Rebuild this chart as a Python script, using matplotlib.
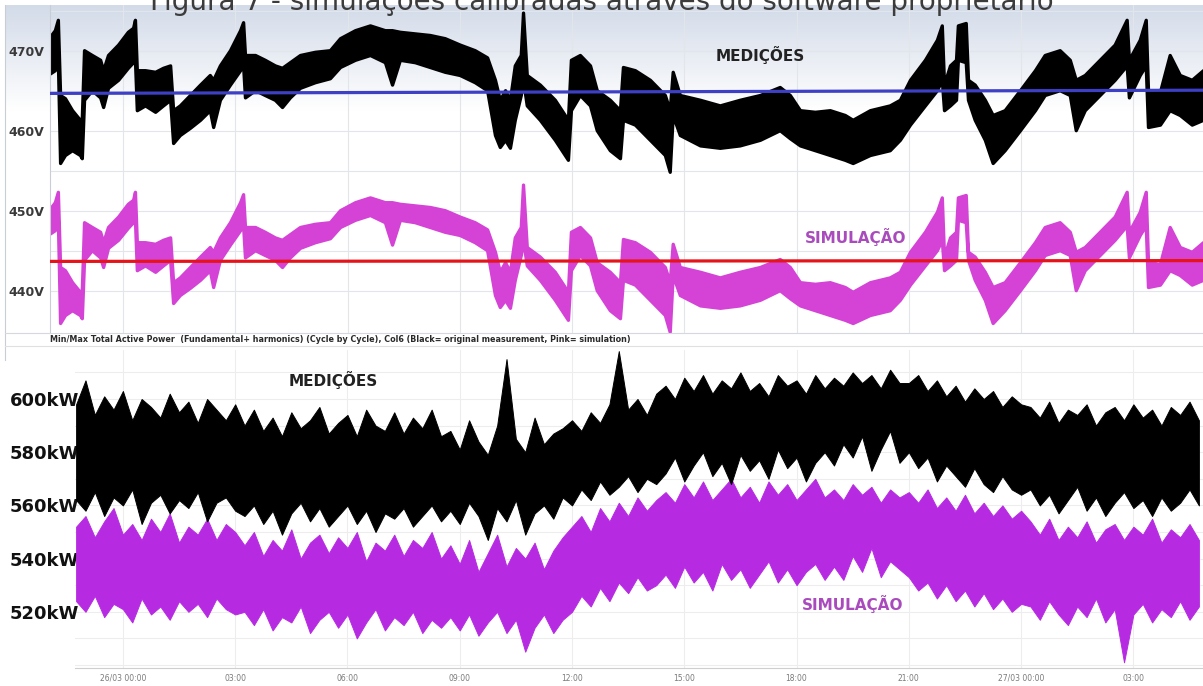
import matplotlib.pyplot as plt
import numpy as np
from matplotlib.colors import LinearSegmentedColormap
from matplotlib.lines import Line2D

W, H = 1203, 686

# time axis: hours from 26/03 00:00
TIME_TICKS = [0, 3, 6, 9, 12, 15, 18, 21, 24, 27]
TIME_LABELS = ["26/03 00:00", "03:00", "06:00", "09:00", "12:00",
               "15:00", "18:00", "21:00", "27/03 00:00", "03:00"]

# --- voltage panel: min/max envelope per time stamp ---
V_TIME = [-1.95, -1.82, -1.74, -1.68, -1.55, -1.36, -1.15, -1.10, -1.04, -0.83,
          -0.61, -0.53, -0.40, -0.13, 0.13, 0.27, 0.32, 0.37, 0.59, 0.86,
          1.07, 1.26, 1.34, 1.52, 1.79, 2.06, 2.32, 2.41, 2.59, 2.86,
          3.13, 3.21, 3.26, 3.53, 3.79, 4.06, 4.25, 4.46, 4.73, 5.13,
          5.53, 5.80, 6.20, 6.60, 7.00, 7.19, 7.40, 7.80, 8.20, 8.60,
          9.00, 9.40, 9.73, 9.94, 10.07, 10.21, 10.34, 10.47, 10.63, 10.69,
          10.79, 11.14, 11.54, 11.89, 11.97, 12.21, 12.48, 12.66, 13.01, 13.28,
          13.36, 13.68, 14.08, 14.48, 14.61, 14.69, 14.88, 15.42, 15.95, 16.48,
          17.02, 17.55, 17.82, 18.09, 18.49, 18.89, 19.29, 19.50, 19.96, 20.49,
          20.76, 21.03, 21.43, 21.75, 21.88, 21.94, 22.10, 22.26, 22.31, 22.52,
          22.58, 22.76, 23.03, 23.24, 23.56, 23.97, 24.37, 24.63, 25.03, 25.30,
          25.46, 25.70, 26.10, 26.50, 26.82, 26.88, 27.17, 27.33, 27.39, 27.71,
          27.97, 28.24, 28.56, 28.86]
V_MEAS_LO = [467.2, 467.6, 468.9, 456.0, 457.0, 457.6, 457.0, 456.6, 463.9, 465.1,
             464.2, 463.0, 465.4, 466.4, 467.9, 468.6, 468.9, 462.6, 463.2, 462.4,
             463.2, 463.9, 458.5, 459.5, 460.4, 461.4, 462.6, 460.5, 463.9, 465.8,
             467.6, 468.2, 464.2, 465.1, 464.5, 463.9, 463.0, 464.2, 465.4, 466.1,
             466.6, 468.0, 468.9, 469.5, 468.6, 465.8, 468.9, 468.6, 468.0, 467.4,
             467.0, 466.1, 465.1, 459.5, 458.0, 458.9, 457.9, 461.4, 464.5, 466.4,
             463.2, 461.4, 458.9, 456.4, 462.6, 464.5, 463.2, 460.1, 457.6, 456.6,
             461.4, 460.8, 458.9, 457.0, 454.9, 462.0, 459.5, 458.2, 457.9, 458.2,
             458.9, 460.1, 459.1, 458.2, 457.6, 457.0, 456.4, 456.0, 457.0, 457.6,
             458.9, 460.8, 463.2, 465.1, 466.4, 462.6, 463.2, 463.9, 468.9, 468.6,
             463.9, 461.4, 458.9, 456.0, 457.6, 460.1, 462.6, 464.5, 465.1, 464.5,
             460.1, 462.6, 464.5, 466.4, 468.2, 464.2, 467.0, 468.2, 460.5, 460.8,
             462.6, 462.0, 460.8, 461.4]
V_MEAS_HI = [471.8, 472.6, 473.9, 464.5, 464.1, 462.6, 461.4, 461.6, 470.1, 469.5,
             468.9, 467.6, 469.5, 470.8, 472.4, 472.9, 473.9, 467.6, 467.6, 467.4,
             467.9, 468.2, 462.6, 463.2, 464.5, 465.8, 467.0, 466.4, 468.2, 470.1,
             472.6, 473.6, 469.5, 469.5, 468.9, 468.2, 467.9, 468.6, 469.5, 469.9,
             470.1, 471.6, 472.6, 473.2, 472.6, 472.6, 472.4, 472.2, 472.0, 471.6,
             470.8, 470.1, 469.2, 466.4, 463.9, 465.1, 463.9, 468.2, 469.5, 474.8,
             467.0, 465.8, 463.9, 461.4, 468.9, 469.5, 468.2, 465.1, 463.9, 462.6,
             468.0, 467.6, 466.4, 464.5, 462.6, 467.4, 464.5, 463.9, 463.2, 463.9,
             464.5, 465.5, 464.5, 462.6, 462.4, 462.6, 462.0, 461.4, 462.6, 463.2,
             463.9, 466.4, 468.9, 471.4, 473.2, 465.8, 468.2, 468.9, 473.2, 473.5,
             466.4, 465.8, 463.9, 462.0, 462.6, 465.1, 467.6, 469.5, 470.1, 468.9,
             466.4, 467.0, 468.9, 470.8, 473.9, 468.9, 471.4, 473.9, 465.1, 464.9,
             469.5, 467.0, 466.4, 467.6]
V_SIM_LO = [447.2, 447.6, 448.9, 436.0, 437.0, 437.6, 437.0, 436.6, 443.9, 445.1,
            444.2, 443.0, 445.4, 446.4, 447.9, 448.6, 448.9, 442.6, 443.2, 442.4,
            443.2, 443.9, 438.5, 439.5, 440.4, 441.4, 442.6, 440.5, 443.9, 445.8,
            447.6, 448.2, 444.2, 445.1, 444.5, 443.9, 443.0, 444.2, 445.4, 446.1,
            446.6, 448.0, 448.9, 449.5, 448.6, 445.8, 448.9, 448.6, 448.0, 447.4,
            447.0, 446.1, 445.1, 439.5, 438.0, 438.9, 437.9, 441.4, 444.5, 446.4,
            443.2, 441.4, 438.9, 436.4, 442.6, 444.5, 443.2, 440.1, 437.6, 436.6,
            441.4, 440.8, 438.9, 437.0, 434.9, 442.0, 439.5, 438.2, 437.9, 438.2,
            438.9, 440.1, 439.1, 438.2, 437.6, 437.0, 436.4, 436.0, 437.0, 437.6,
            438.9, 440.8, 443.2, 445.1, 446.4, 442.6, 443.2, 443.9, 448.9, 448.6,
            443.9, 441.4, 438.9, 436.0, 437.6, 440.1, 442.6, 444.5, 445.1, 444.5,
            440.1, 442.6, 444.5, 446.4, 448.2, 444.2, 447.0, 448.2, 440.5, 440.8,
            442.6, 442.0, 440.8, 441.4]
V_SIM_HI = [450.3, 451.1, 452.4, 443.0, 442.6, 441.1, 439.9, 440.1, 448.6, 448.0,
            447.4, 446.1, 448.0, 449.3, 450.9, 451.4, 452.4, 446.1, 446.1, 445.9,
            446.4, 446.7, 441.1, 441.7, 443.0, 444.3, 445.5, 444.9, 446.7, 448.6,
            451.1, 452.1, 448.0, 448.0, 447.4, 446.7, 446.4, 447.1, 448.0, 448.4,
            448.6, 450.1, 451.1, 451.7, 451.1, 451.1, 450.9, 450.7, 450.5, 450.1,
            449.3, 448.6, 447.7, 444.9, 442.4, 443.6, 442.4, 446.7, 448.0, 453.3,
            445.5, 444.3, 442.4, 439.9, 447.4, 448.0, 446.7, 443.6, 442.4, 441.1,
            446.5, 446.1, 444.9, 443.0, 441.1, 445.9, 443.0, 442.4, 441.7, 442.4,
            443.0, 444.0, 443.0, 441.1, 440.9, 441.1, 440.5, 439.9, 441.1, 441.7,
            442.4, 444.9, 447.4, 449.9, 451.7, 444.3, 446.7, 447.4, 451.7, 452.0,
            444.9, 444.3, 442.4, 440.5, 441.1, 443.6, 446.1, 448.0, 448.6, 447.4,
            444.9, 445.5, 447.4, 449.3, 452.4, 447.4, 449.9, 452.4, 443.6, 443.4,
            448.0, 445.5, 444.9, 446.1]
V_REF_TIME = [-1.95, 28.86]
V_MEAS_REF = [464.7, 465.1]
V_SIM_REF = [443.7, 443.8]
V_TICKS = [470, 460, 450, 440]
V_LABELS = ["470V", "460V", "450V", "440V"]

# --- active power panel: min/max per 15 min sample ---
P_START = -1.25
P_STEP = 0.25
P_MEAS_HI = [598, 607, 594, 601, 596, 603, 592, 600, 597, 593, 602, 595, 599, 591, 600, 596, 592, 598,
             590, 596, 588, 593, 586, 595, 589, 592, 597, 587, 591, 594, 586, 596, 590, 588, 595, 587,
             593, 589, 596, 586,
             588, 581, 592, 584, 579, 590, 615, 585, 580, 593, 583, 587, 589,
             592, 588, 595, 591, 598, 618, 596, 600, 594, 602,
             605, 600, 608, 603, 609, 602, 607, 604, 610, 603, 606, 601, 609, 605, 607, 602, 609, 604,
             608, 605, 610, 606, 609, 604, 611, 606,
             606, 609, 603, 607, 601, 605, 599, 604, 600, 603, 597, 601, 598,
             597, 593, 599, 591, 596, 594, 598, 590, 595, 597, 592, 598, 593, 596, 590, 597, 594, 599, 592]
P_MEAS_LO = [562, 558, 565, 556, 563, 560, 566, 553, 561, 564, 557, 562, 559, 565, 554, 561, 563, 558,
             556, 560, 553, 558, 549, 557, 561, 554, 559, 552, 556, 560, 553, 558, 550, 557, 555, 559,
             552, 556, 560, 554,
             558, 553, 561, 556, 547, 559, 554, 562, 549, 557, 560, 555, 563,
             560, 566, 562, 569, 564, 567, 571, 565, 570, 568,
             572, 578, 569, 575, 580, 571, 576, 568, 579, 573, 577, 570, 581, 574, 578, 569, 576, 580,
             575, 583, 578, 586, 573, 581, 588, 576,
             580, 574, 578, 569, 575, 571, 567, 574, 568, 565, 571, 566, 564,
             566, 560, 564, 557, 562, 567, 558, 563, 556, 561, 565, 559, 562, 556, 563, 558, 561, 566, 560]
P_SIM_HI = [552, 556, 548, 554, 559, 549, 553, 547, 555, 550, 557, 546, 552, 549, 555, 547, 553, 550,
            545, 550, 541, 547, 543, 551, 540, 546, 549, 542, 548, 544, 550, 539, 546, 543, 549, 541,
            547, 544, 550, 540,
            545, 538, 547, 535, 542, 549, 537, 544, 540, 546, 536, 543, 548,
            552, 556, 550, 559, 554, 561, 556, 563, 558, 562,
            565, 561, 568, 563, 569, 562, 566, 570, 563, 567, 561, 569, 564, 568, 562, 566, 570, 563,
            566, 562, 568, 564, 567, 561, 566, 563,
            565, 561, 566, 559, 563, 558, 564, 557, 561, 556, 560, 555, 558,
            554, 549, 555, 547, 552, 548, 554, 546, 551, 553, 547, 552, 549, 555, 546, 551, 548, 553, 547]
P_SIM_LO = [524, 520, 526, 518, 523, 521, 516, 525, 519, 522, 517, 524, 520, 523, 518, 525, 521, 519,
            520, 515, 521, 513, 518, 516, 522, 512, 517, 520, 514, 519, 510, 516, 521, 513, 518, 515,
            520, 512, 517, 514,
            518, 513, 519, 511, 516, 520, 512, 517, 505, 514, 519, 512, 517,
            520, 526, 522, 529, 524, 531, 527, 533, 528, 530,
            534, 529, 537, 531, 535, 528, 538, 532, 536, 529, 534, 539, 531, 536, 530, 535, 538, 532,
            537, 532, 541, 535, 544, 533, 539, 536,
            533, 528, 531, 525, 530, 524, 528, 522, 527, 521, 525, 520, 523,
            522, 517, 524, 519, 515, 522, 518, 525, 516, 521, 501, 519, 523, 516, 521, 518, 524, 517, 522]
P_TICKS = [600, 580, 560, 540, 520]
P_LABELS = ["600kW", "580kW", "560kW", "540kW", "520kW"]

TITLE = "Figura 7 - simulações calibradas através do software proprietário"
CAPTION = ("Min/Max Total Active Power  (Fundamental+ harmonics) (Cycle by Cycle), "
           "Col6 (Black= original measurement, Pink= simulation)")

BLACK = "#000000"
PINK_V = "#d442d6"
PINK_P = "#b62ae2"
LABEL_PURPLE = "#a94bbd"


def fx(x):
    return x / W


def fy(y):
    return 1 - y / H


def px_rect(x0, y0, x1, y1):
    return [fx(x0), fy(y1), (x1 - x0) / W, (y1 - y0) / H]


fig = plt.figure(figsize=(W / 100, H / 100), dpi=100)
fig.patch.set_facecolor("white")

# background gradient of the voltage panel
bg = fig.add_axes(px_rect(5, 5, 1203, 333), zorder=0)
grad_cmap = LinearSegmentedColormap.from_list(
    "bg", [(0, "#d3dbe9"), (0.32, "#ffffff"), (1, "#ffffff")])
bg.imshow(np.linspace(0, 1, 256).reshape(-1, 1), cmap=grad_cmap, aspect="auto",
          extent=[0, 1, 0, 1])
bg.set_axis_off()

# ---------------- voltage panel ----------------
ax1 = fig.add_axes(px_rect(50, 5, 1203, 333), zorder=1)
ax1.patch.set_alpha(0)
ax1.set_xlim(-1.95, 28.86)
ax1.set_ylim(434.75, 475.75)
for v in range(440, 476, 5):
    ax1.axhline(v, color="#e2e5ea", lw=0.8, zorder=0)
for t in TIME_TICKS:
    ax1.axvline(t, color="#e2e5ea", lw=0.8, zorder=0)
ax1.fill_between(V_TIME, V_MEAS_LO, V_MEAS_HI, color=BLACK, lw=2.4, zorder=2)
ax1.fill_between(V_TIME, V_SIM_LO, V_SIM_HI, color=PINK_V, edgecolor=PINK_V, lw=2.4, zorder=2)
ax1.plot(V_REF_TIME, V_MEAS_REF, color="#3d3fc4", lw=2.3, zorder=3)
ax1.plot(V_REF_TIME, V_SIM_REF, color="#e5141a", lw=2.3, zorder=3)
ax1.set_yticks(V_TICKS)
ax1.set_yticklabels(V_LABELS, fontsize=9, fontweight="bold", color="#3a3a3a")
ax1.set_xticks([])
ax1.tick_params(axis="y", length=0, pad=4)
for side in ["top", "right", "bottom"]:
    ax1.spines[side].set_visible(False)
ax1.spines["left"].set_color("#c9ced6")

# ---------------- active power panel ----------------
p_time = P_START + P_STEP * np.arange(len(P_MEAS_HI))
ax2 = fig.add_axes(px_rect(75, 350, 1203, 668), zorder=1)
ax2.set_xlim(-1.28, 28.86)
ax2.set_ylim(498.87, 618.42)
for v in range(500, 615, 10):
    ax2.axhline(v, color="#ededed", lw=0.8, zorder=0)
for t in TIME_TICKS:
    ax2.axvline(t, color="#ededed", lw=0.8, zorder=0)
ax2.fill_between(p_time, P_SIM_LO, P_SIM_HI, color=PINK_P, edgecolor=PINK_P, lw=0.7, zorder=2)
ax2.fill_between(p_time, P_MEAS_LO, P_MEAS_HI, color=BLACK, lw=0.7, zorder=3)
ax2.set_yticks(P_TICKS)
ax2.set_yticklabels(P_LABELS, fontsize=13, fontweight="bold", color="#111111")
ax2.tick_params(axis="y", length=0, pad=-3)
ax2.set_xticks(TIME_TICKS)
ax2.set_xticklabels(TIME_LABELS, fontsize=5.5, color="#7a7a7a")
ax2.tick_params(axis="x", length=0, pad=4)
for side in ["top", "right", "left"]:
    ax2.spines[side].set_visible(False)
ax2.spines["bottom"].set_color("#cfcfcf")

# frame lines of the screenshot
fig.add_artist(Line2D([fx(5), fx(5)], [fy(5), fy(360)], color="#c9ced6", lw=0.8))
fig.add_artist(Line2D([fx(5), fx(1203)], [fy(333), fy(333)], color="#d5d8dd", lw=0.8))
fig.add_artist(Line2D([fx(5), fx(1203)], [fy(346), fy(346)], color="#e0e0e0", lw=0.8))

# texts (the title is cropped at the top edge in the screenshot)
fig.text(fx(602), fy(10), TITLE, ha="center", va="baseline", fontsize=20, color="#3c3c3c")
fig.text(fx(50), fy(339), CAPTION, ha="left", va="center", fontsize=5.8, fontweight="bold",
         color="#2a2a2a")
fig.text(fx(760), fy(55), "MEDIÇÕES", ha="center", va="center", fontsize=11,
         fontweight="bold", color="#222222")
fig.text(fx(856), fy(237), "SIMULAÇÃO", ha="center", va="center", fontsize=11,
         fontweight="bold", color=LABEL_PURPLE)
fig.text(fx(333), fy(380), "MEDIÇÕES", ha="center", va="center", fontsize=11,
         fontweight="bold", color="#222222")
fig.text(fx(853), fy(604), "SIMULAÇÃO", ha="center", va="center", fontsize=11,
         fontweight="bold", color=LABEL_PURPLE)

fig.savefig("out.png", dpi=100)
